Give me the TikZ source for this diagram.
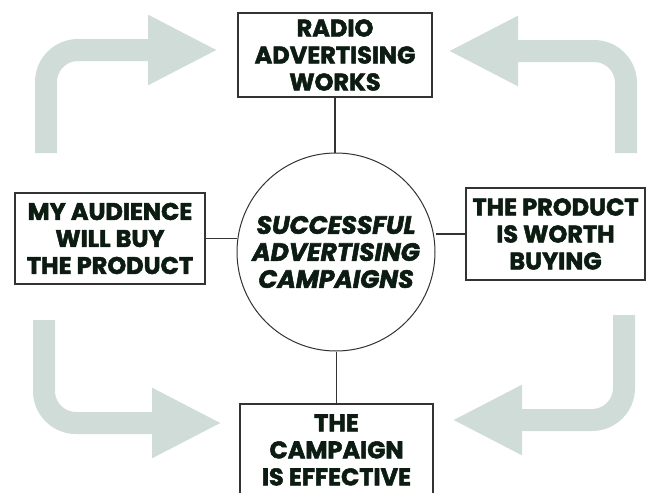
\documentclass[tikz,border=0pt]{standalone}
\usepackage{fontspec}
\setmainfont{Poppins}[BoldFeatures={FakeBold=2.2},BoldItalicFeatures={FakeBold=2.2}]
\usetikzlibrary{arrows.meta}
\definecolor{arrowgrey}{RGB}{208,220,215}
\definecolor{inkgreen}{RGB}{12,28,18}

\begin{document}
\begin{tikzpicture}[x=1pt,y=-1pt,
    box/.style={draw=black!80,line width=1.1pt,align=center,text=inkgreen,
        font=\bfseries\fontsize{24}{27}\selectfont,inner sep=2pt},
    link/.style={draw=black!80,line width=1.1pt},
    bigarrow/.style={arrowgrey,line width=22pt,rounded corners=32pt,
        -{Triangle[length=70pt,width=65pt]}}]
    \useasboundingbox (0,0) rectangle (649,493);
    % curved arrows in the corners
    \coordinate (tlfoot) at (46,153);  \coordinate (tltip) at (218,50);
    \coordinate (trfoot) at (626,153); \coordinate (trtip) at (448,51);
    \coordinate (blfoot) at (44,320);  \coordinate (bltip) at (222,423);
    \coordinate (brfoot) at (624,315); \coordinate (brtip) at (452,420);
    \foreach \a in {tl,tr,bl,br} {
        \draw[bigarrow] (\a foot) |- (\a tip);
    }
    % boxes and circle
    \node[box,minimum width=194pt,minimum height=84pt] (radio) at (335,55)
        {RADIO\\ADVERTISING\\WORKS};
    \node[box,minimum width=190pt,minimum height=91pt] (audience) at (110,238.5)
        {MY AUDIENCE\\WILL BUY\\THE PRODUCT};
    \node[box,minimum width=179pt,minimum height=92pt] (product) at (555.5,234)
        {THE PRODUCT\\IS WORTH\\BUYING};
    \node[box,minimum width=193pt,minimum height=92pt] (campaign) at (336.5,450)
        {THE\\CAMPAIGN\\IS EFFECTIVE};
    \node[circle,draw=black!80,line width=1pt,minimum size=198pt,inner sep=0pt,align=center,
        text=inkgreen,font=\bfseries\itshape\fontsize{25}{27}\selectfont] (core) at (336,252)
        {SUCCESSFUL\\ADVERTISING\\CAMPAIGNS};
    % links
    \draw[link] (radio.south) -- (radio.south |- core.north);
    \draw[link] (campaign.north) -- (campaign.north |- core.south);
    \draw[link] (audience.east) -- (audience.east -| core.west);
    \draw[link] (product.west) -- (product.west -| core.east);
\end{tikzpicture}
\end{document}
